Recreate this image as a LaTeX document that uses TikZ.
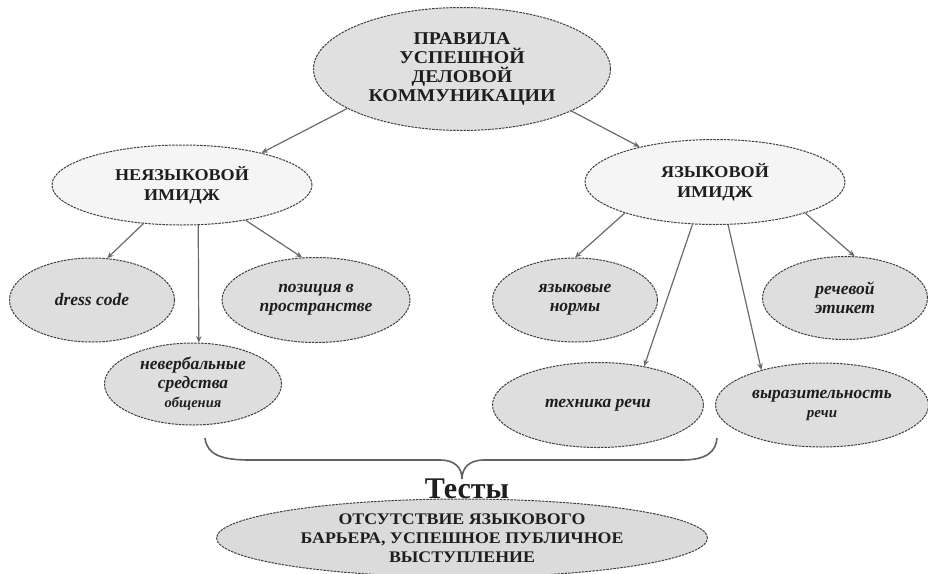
\documentclass[tikz,border=0pt]{standalone}
\usepackage{fontspec}
\setmainfont{Liberation Serif}
\newfontfamily\hfont{Liberation Serif}[FakeStretch=1.1]
\usetikzlibrary{shapes.geometric,arrows.meta}
\definecolor{txt}{HTML}{1E1E1E}
\tikzset{
  ell/.style={ellipse, draw=black!75, line width=1pt, dash pattern=on 2.5pt off 1pt,
    fill=black!13, inner sep=0pt, align=center, text=txt},
  headtxt/.style={font=\hfont\bfseries\fontsize{16.5}{20}\selectfont},
  ittxt/.style={font=\bfseries\itshape\fontsize{17.5}{19}\selectfont},
  arr/.style={draw=black!58, line width=1.2pt, -{Stealth[length=6.5pt,width=5.5pt]}},
  bracestyle/.style={draw=black!62, line width=1.6pt},
}
\begin{document}
\begin{tikzpicture}[x=1pt,y=-1pt]
\useasboundingbox (0,0) rectangle (928,573);
\fill[white] (0,0) rectangle (928,573);

\node[ell, fill=black!12, minimum width=297pt, minimum height=123pt,
      font=\hfont\bfseries\fontsize{18}{18.7}\selectfont] (top) at (462,69)
      {ПРАВИЛА\\УСПЕШНОЙ\\ДЕЛОВОЙ\\КОММУНИКАЦИИ};

\node[ell, fill=black!4, minimum width=260pt, minimum height=80pt, headtxt] (neya) at (182,185)
      {НЕЯЗЫКОВОЙ\\ИМИДЖ};
\node[ell, fill=black!4, minimum width=260pt, minimum height=85pt, headtxt] (ya) at (715,182)
      {ЯЗЫКОВОЙ\\ИМИДЖ};

\node[ell, minimum width=165pt, minimum height=84pt, ittxt] (dress) at (92,300) {dress code};
\node[ell, minimum width=188pt, minimum height=85pt, ittxt] (poz) at (316,300) {позиция в\\пространстве};
\node[ell, minimum width=177pt, minimum height=82pt, ittxt] (nev) at (193,384)
      {невербальные\\средства\\{\fontsize{14.5}{16}\selectfont общения}};

\node[ell, minimum width=165pt, minimum height=84pt, ittxt] (yan) at (575,300) {языковые\\нормы};
\node[ell, minimum width=165pt, minimum height=83pt, ittxt] (rech) at (845,298) {речевой\\этикет};
\node[ell, minimum width=211pt, minimum height=85pt, ittxt] (tech) at (598,405) {техника речи};
\node[ell, minimum width=213pt, minimum height=84pt, ittxt] (vyr) at (822,405)
      {выразительность\\{\fontsize{15}{16}\selectfont речи}};

\node[ell, fill=black!14, minimum width=491pt, minimum height=78pt,
      font=\hfont\bfseries\fontsize{16.2}{19}\selectfont] (bot) at (462,538)
      {ОТСУТСТВИЕ ЯЗЫКОВОГО\\БАРЬЕРА, УСПЕШНОЕ ПУБЛИЧНОЕ\\ВЫСТУПЛЕНИЕ};

\node[anchor=base, inner sep=0pt, text=txt, font=\bfseries\fontsize{30}{30}\selectfont] (tests) at (467,498) {Тесты};

% connectors
\draw[arr] (top.199) -- (neya.22);
\draw[arr] (top.339) -- (ya.155);
\draw[arr] (neya.225) -- (dress.70);
\draw[arr] (neya.292) -- (nev.82);
\draw[arr] (neya.331) -- (poz.108);
\draw[arr] (ya.199) -- (yan.90);
\draw[arr] (ya.242) -- (tech.40);
\draw[arr] (ya.287) -- (vyr.150);
\draw[arr] (ya.341) -- (rech.77);

% brace
\coordinate (bl) at (205,438);
\coordinate (br) at (717,438);
\coordinate (btip) at (462,479);
\draw[bracestyle] (bl) .. controls (207,455) and (222,460) .. (250,460) -- (440,460)
  .. controls (455,460) and (462,468) .. (btip)
  .. controls (462,468) and (469,460) .. (484,460) -- (682,460)
  .. controls (706,460) and (716,452) .. (br);
\end{tikzpicture}
\end{document}
